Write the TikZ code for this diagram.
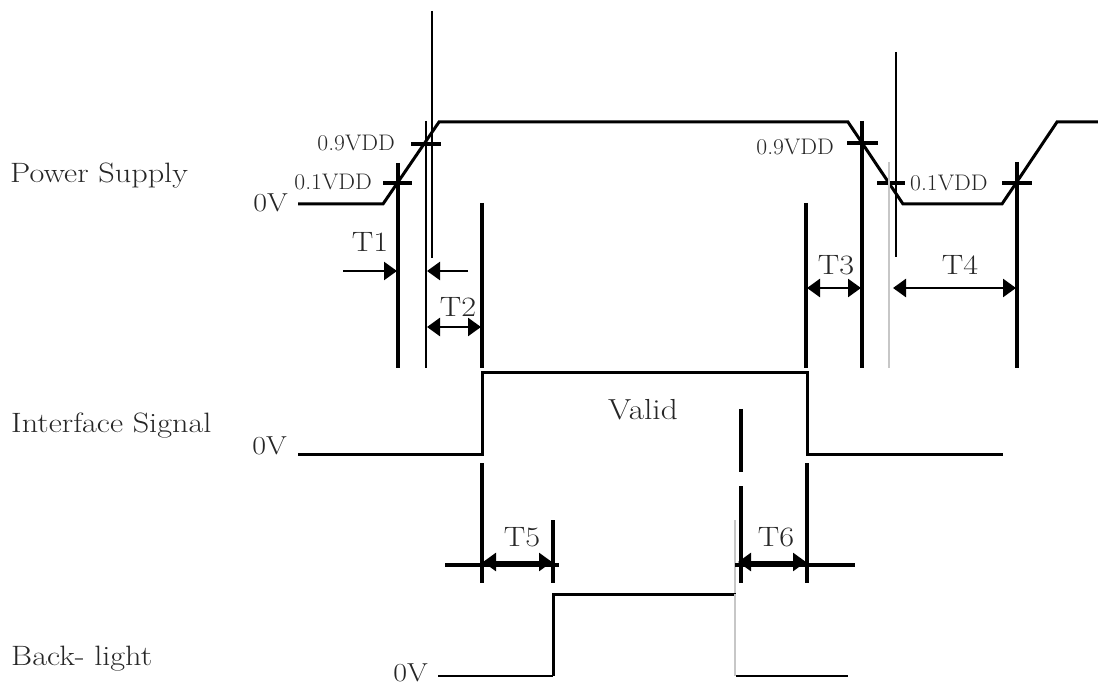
\documentclass[tikz,border=0pt]{standalone}
\usepackage{fontspec}
\setmainfont[FakeStretch=1.15]{Latin Modern Roman}
\newfontfamily\vddfont[FakeStretch=1.05]{Latin Modern Roman}
\usetikzlibrary{arrows.meta}
\begin{document}
\begin{tikzpicture}[x=1pt,y=-1pt,
  sig/.style={line width=3pt, line join=miter},
  sigthin/.style={line width=1.6pt},
  tmark/.style={line width=3.2pt},
  longmark/.style={line width=2.7pt},
  thinmark/.style={line width=1.1pt},
  graymark/.style={line width=1.1pt, draw=black!22},
  tick/.style={line width=3.2pt},
  dim/.style={line width=2.6pt, {Triangle[length=13pt,width=18pt]}-{Triangle[length=13pt,width=18pt]}},
  rarr/.style={line width=2.4pt, -{Triangle[length=13pt,width=18pt]}},
  lbl/.style={font=\fontsize{28}{32}\selectfont, inner sep=0pt, text=black!85},
  tlbl/.style={font=\fontsize{28}{32}\selectfont, inner sep=0pt, text=black!85},
  vlbl/.style={font=\vddfont\fontsize{22.5}{26}\selectfont, inner sep=0pt, text=black!85},
  zlbl/.style={font=\fontsize{26}{30}\selectfont, inner sep=0pt, text=black!85},
]
\useasboundingbox (0,0) rectangle (1098,684);

% ---------- row labels ----------
\node[lbl, anchor=base west] (ps) at (10,183) {Power Supply};
\node[lbl, anchor=base west] (is) at (11,433) {Interface Signal};
\node[lbl, anchor=base west] (bl) at (11,665) {Back- light};

% ---------- 0V labels ----------
\node[zlbl, anchor=base east] (z1) at (288,212) {0V};
\node[zlbl, anchor=base east] (z2) at (287,455) {0V};
\node[zlbl, anchor=base east] (z3) at (428,681) {0V};

% ---------- power supply waveform ----------
\draw[sig] (298,204) -- (383,204) -- (439,122) -- (848,122) -- (903,204)
  -- (1002,204) -- (1057,122) -- (1098,122);

% threshold ticks
\draw[tick] (383,183) -- (412,183);
\draw[tick] (411,144) -- (441,144);
\draw[tick] (847,143) -- (878,143);
\draw[tick] (877,183) -- (905,183);
\draw[tick] (1002,183) -- (1032,183);

\node[vlbl, anchor=base east] (v1) at (372,190) {0.1VDD};
\node[vlbl, anchor=base east] (v9) at (395,151) {0.9VDD};
\node[vlbl, anchor=base east] (v9r) at (834,155) {0.9VDD};
\node[vlbl, anchor=base west] (v1r) at (910,191) {0.1VDD};

% ---------- vertical timing markers (top) ----------
\draw[tmark] (398,163) -- (398,368);
\draw[thinmark] (426,121) -- (426,368);
\draw[longmark] (432,11) -- (432,258);
\draw[tmark] (482,203) -- (482,368);
\draw[tmark] (806,203) -- (806,368);
\draw[tmark] (862,121) -- (862,368);
\draw[graymark] (889,162) -- (889,368);
\draw[longmark] (896,52) -- (896,257);
\draw[tmark] (1017,162) -- (1017,368);

% ---------- T1..T4 ----------
\coordinate (t1a) at (343,271);
\coordinate (t1b) at (397,271);
\coordinate (t1c) at (468,271);
\coordinate (t1d) at (427,271);
\draw[rarr] (t1a) -- (t1b);
\draw[rarr] (t1c) -- (t1d);
\node[tlbl, anchor=base] (T1) at (370,252) {T1};

\coordinate (t2a) at (427,327);
\coordinate (t2b) at (481,327);
\draw[dim] (t2a) -- (t2b);
\node[tlbl, anchor=base] (T2) at (458,317) {T2};

\coordinate (t3a) at (807,288);
\coordinate (t3b) at (861,288);
\draw[dim] (t3a) -- (t3b);
\node[tlbl, anchor=base] (T3) at (836,275) {T3};

\coordinate (t4a) at (893,288);
\coordinate (t4b) at (1016,288);
\draw[dim] (t4a) -- (t4b);
\node[tlbl, anchor=base] (T4) at (960,275) {T4};

% ---------- interface signal ----------
\draw[sig] (298,455) -- (482,455) -- (482,373) -- (807,373) -- (807,455) -- (1003,455);
\node[font=\fontsize{29}{33}\selectfont, inner sep=0pt, text=black!85, anchor=base] (valid) at (643,420) {Valid};

% markers below interface
\draw[tmark] (482,463) -- (482,583);
\draw[tmark] (807,463) -- (807,583);
\draw[tmark] (553,520) -- (553,583);
\draw[tmark] (741,409) -- (741,472);
\draw[tmark] (741,486) -- (741,583);
\draw[graymark] (735,520) -- (735,594);

% T5 / T6 baselines
\draw[tick] (445,565) -- (559,565);
\draw[tick] (735,565) -- (855,565);
\coordinate (t5a) at (483,562);
\coordinate (t5b) at (552,562);
\draw[dim] (t5a) -- (t5b);
\node[tlbl, anchor=base] (T5) at (522,546) {T5};
\coordinate (t6a) at (738,562);
\coordinate (t6b) at (806,562);
\draw[dim] (t6a) -- (t6b);
\node[tlbl, anchor=base] (T6) at (776,546) {T6};

% ---------- back-light ----------
\draw[sigthin] (438,676) -- (553,676);
\draw[sig] (553,676) -- (553,594) -- (736,594);
\draw[graymark] (735,594) -- (735,676);
\draw[sigthin] (736,676) -- (848,676);
\end{tikzpicture}
\end{document}
